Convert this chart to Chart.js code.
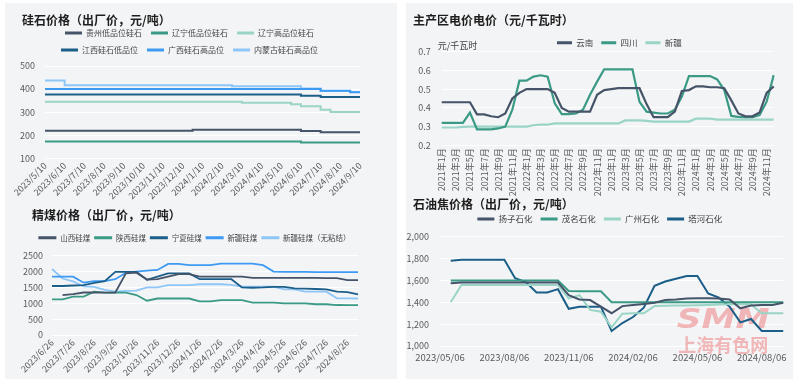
<!DOCTYPE html>
<html>
<head>
<meta charset="utf-8">
<script src="https://cdn.jsdelivr.net/npm/chart.js@4.4.1/dist/chart.umd.min.js"></script>
<style>
  html, body { margin: 0; padding: 0; background: #ffffff; }
  body { width: 800px; height: 379px; position: relative; overflow: hidden; }
  .panel { position: absolute; background: #f3f4f6; }
  canvas { position: absolute; }
</style>
</head>
<body>
<div class="panel" style="left:5px;top:3px;width:392px;height:376px"></div>
<div class="panel" style="left:406px;top:3px;width:387px;height:376px"></div>
<canvas id="silica" width="392" height="197" style="left:5px;top:3px"></canvas>
<canvas id="power" width="387" height="197" style="left:406px;top:3px"></canvas>
<canvas id="coal" width="392" height="176" style="left:5px;top:200px"></canvas>
<canvas id="coke" width="387" height="186" style="left:406px;top:190px"></canvas>
<script>
// ---- 硅石价格 (semi-monthly) ----
var silicaDates = ['2023/5/10','2023/5/25','2023/6/10','2023/6/25','2023/7/10','2023/7/25','2023/8/10','2023/8/25',
  '2023/9/10','2023/9/25','2023/10/10','2023/10/25','2023/11/10','2023/11/25','2023/12/10','2023/12/25',
  '2024/1/10','2024/1/25','2024/2/10','2024/2/25','2024/3/10','2024/3/25','2024/4/10','2024/4/25',
  '2024/5/10','2024/5/25','2024/6/10','2024/6/25','2024/7/10','2024/7/25','2024/8/10','2024/8/25','2024/9/10'];
var guizhouLow = [219,219,219,219,219,219,219,219,219,219,219,219,219,219,219,224,224,224,224,224,224,224,224,224,224,224,218,218,213,213,213,213,213];
var liaoningLow = [173,173,173,173,173,173,173,173,173,173,173,173,173,173,173,173,173,173,173,173,173,173,173,173,173,173,168,168,168,168,168,168,168];
var liaoningHigh = [345,345,345,345,345,345,345,345,345,345,345,345,345,345,345,345,345,345,345,345,341,341,341,341,341,334,326,326,310,301,301,301,301];
var jiangxiLow = [376,376,376,376,376,376,376,376,376,376,376,376,376,376,376,376,376,376,376,376,376,376,376,376,376,376,371,371,366,366,366,366,366];
var guangxiHigh = [400,400,400,400,400,400,400,400,400,400,400,400,400,400,400,400,400,400,400,400,400,400,400,400,400,400,400,400,393,393,393,386,386];
var neimengHigh = [437,437,417,417,417,417,417,417,417,417,417,417,417,417,417,417,417,417,417,412,412,412,412,412,412,412,402,402,392,392,392,387,387];

// ---- 主产区电价 (monthly) ----
var powerMonths = ['2021年1月','2021年2月','2021年3月','2021年4月','2021年5月','2021年6月','2021年7月','2021年8月','2021年9月','2021年10月','2021年11月','2021年12月',
  '2022年1月','2022年2月','2022年3月','2022年4月','2022年5月','2022年6月','2022年7月','2022年8月','2022年9月','2022年10月','2022年11月','2022年12月',
  '2023年1月','2023年2月','2023年3月','2023年4月','2023年5月','2023年6月','2023年7月','2023年8月','2023年9月','2023年10月','2023年11月','2023年12月',
  '2024年1月','2024年2月','2024年3月','2024年4月','2024年5月','2024年6月','2024年7月','2024年8月','2024年9月','2024年10月','2024年11月','2024年12月'];
var yunnan = [0.43,0.43,0.43,0.43,0.43,0.365,0.365,0.355,0.35,0.37,0.45,0.48,0.50,0.50,0.50,0.50,0.48,0.40,0.38,0.38,0.38,0.38,0.47,0.495,
  0.50,0.505,0.505,0.505,0.505,0.42,0.35,0.35,0.35,0.38,0.49,0.495,0.515,0.515,0.51,0.51,0.505,0.44,0.37,0.355,0.355,0.375,0.48,0.515];
var sichuan = [0.32,0.32,0.32,0.32,0.375,0.285,0.285,0.285,0.29,0.30,0.39,0.545,0.545,0.567,0.574,0.567,0.424,0.367,0.367,0.37,0.39,0.47,0.54,0.606,
  0.606,0.606,0.606,0.606,0.433,0.38,0.375,0.37,0.37,0.39,0.46,0.57,0.57,0.57,0.57,0.552,0.495,0.357,0.352,0.35,0.35,0.362,0.433,0.575];
var xinjiang = [0.295,0.295,0.295,0.298,0.30,0.30,0.30,0.30,0.30,0.30,0.30,0.30,0.30,0.307,0.31,0.31,0.317,0.317,0.317,0.317,0.317,0.317,0.317,0.317,
  0.317,0.317,0.333,0.333,0.333,0.33,0.327,0.327,0.327,0.327,0.327,0.327,0.342,0.342,0.342,0.337,0.337,0.337,0.337,0.337,0.337,0.337,0.337,0.337];

// ---- 精煤价格 (semi-monthly) ----
var coalDates = ['2023/6/26','2023/7/11','2023/7/26','2023/8/11','2023/8/26','2023/9/11','2023/9/26','2023/10/11','2023/10/26','2023/11/11',
  '2023/11/26','2023/12/11','2023/12/26','2024/1/11','2024/1/26','2024/2/11','2024/2/26','2024/3/11','2024/3/26','2024/4/11',
  '2024/4/26','2024/5/11','2024/5/26','2024/6/11','2024/6/26','2024/7/11','2024/7/26','2024/8/11','2024/8/26','2024/9/11'];
var shanxiCoal = [null,1260,1290,1340,1340,1335,1340,1945,1965,1750,1760,1840,1920,1920,1840,1840,1840,1840,1840,1800,1800,1800,1800,1800,1800,1800,1790,1790,1730,1730];
var shaanxiCoal = [1125,1125,1210,1210,1365,1335,1335,1335,1260,1080,1150,1150,1150,1150,1060,1060,1100,1100,1100,1020,1020,1020,1000,1000,1000,970,970,945,940,940];
var ningxiaCoal = [1545,1545,1560,1575,1640,1700,1990,1990,1990,1740,1840,1940,1940,1940,1760,1760,1760,1760,1500,1490,1500,1520,1520,1470,1460,1450,1440,1370,1350,1280];
var xinjiangCoal = [1840,1840,1840,1650,1700,1700,1760,1960,2000,2030,2050,2240,2240,2200,2200,2200,2250,2250,2250,2250,2200,2000,1990,1990,1990,1985,1985,1980,1980,1980];
var xinjiangNoBind = [2080,1780,1690,1530,1520,1420,1370,1390,1400,1500,1500,1570,1575,1575,1600,1600,1600,1580,1525,1525,1525,1525,1440,1440,1365,1365,1365,1155,1155,1150];

// ---- 石油焦价格 (semi-monthly) ----
var cokeDates = ['2023/05/06','2023/05/21','2023/06/06','2023/06/21','2023/07/06','2023/07/21','2023/08/06','2023/08/21','2023/09/06','2023/09/21',
  '2023/10/06','2023/10/21','2023/11/06','2023/11/21','2023/12/06','2023/12/21','2024/01/06','2024/01/21','2024/02/06','2024/02/21',
  '2024/03/06','2024/03/21','2024/04/06','2024/04/21','2024/05/06','2024/05/21','2024/06/06','2024/06/21','2024/07/06','2024/07/21',
  '2024/08/06','2024/08/21','2024/09/06'];
var yangzi = [null,1575,1580,1580,1580,1580,1580,1580,1580,1580,1580,1580,1466,1425,1420,1360,1300,1365,1375,1385,1395,1420,1425,1435,1438,1438,1435,1425,1345,1370,1375,1375,1395];
var maoming = [null,1600,1600,1600,1600,1600,1600,1600,1600,1600,1600,1600,1503,1500,1500,1500,1400,1400,1400,1400,1400,1400,1400,1400,1400,1400,1400,1400,1400,1400,1400,1400,1400];
var guangzhou = [null,1400,1558,1558,1558,1558,1558,1558,1558,1558,1558,1558,1436,1466,1330,1314,1170,1295,1300,1300,1365,1368,1370,1370,1372,1375,1380,1382,1382,1380,1300,1300,1300];
var tahe = [null,1780,1790,1790,1790,1790,1790,1620,1585,1490,1490,1520,1340,1360,1360,1360,1137,1210,1265,1350,1550,1590,1615,1640,1640,1480,1442,1360,1216,1247,1137,1137,1137];

var FONT = '"Noto Sans CJK SC", "Noto Sans", sans-serif';
Chart.defaults.font.family = FONT;
Chart.defaults.font.size = 9;
Chart.defaults.color = '#5a5a5a';

var slate = '#465469', teal = '#3a9a85', mint = '#9ad4c6', navy = '#1b5e88', blue = '#3d9af2', sky = '#8fc6f8';

// unit label, watermark, title/legend nudges
var extras = {
  id: 'extras',
  afterLayout: function (chart, args, opts) {
    if (opts.titleShift) {
      chart.titleBlock.left += opts.titleShift;
      chart.titleBlock.right += opts.titleShift;
    }
    if (opts.legendShift) {
      chart.legend.left += opts.legendShift;
      chart.legend.right += opts.legendShift;
    }
  },
  beforeDatasetsDraw: function (chart, args, opts) {
    if (!opts.watermark) return;
    var ctx = chart.ctx, a = chart.chartArea;
    var cx = a.right - 60;
    ctx.save();
    ctx.fillStyle = 'rgba(238, 105, 105, 0.45)';
    ctx.textAlign = 'center';
    ctx.textBaseline = 'middle';
    ctx.font = 'italic bold 32px "DejaVu Sans"';
    var w = ctx.measureText('SMM').width;
    ctx.translate(cx, a.bottom - 25);
    ctx.scale(93 / w, 0.85);
    ctx.fillText('SMM', 0, 0);
    ctx.restore();
    ctx.save();
    ctx.fillStyle = 'rgba(238, 105, 105, 0.45)';
    ctx.textAlign = 'center';
    ctx.textBaseline = 'middle';
    ctx.font = 'bold 18px ' + FONT;
    ctx.fillText('上海有色网', cx, a.bottom - 1);
    ctx.restore();
  },
  afterDraw: function (chart, args, opts) {
    if (!opts.unit) return;
    var ctx = chart.ctx, a = chart.chartArea;
    ctx.save();
    ctx.font = '9px ' + FONT;
    ctx.fillStyle = '#444';
    ctx.textAlign = 'left';
    ctx.textBaseline = 'middle';
    ctx.fillText(opts.unit, a.left - 4, a.top - 6);
    ctx.restore();
  }
};
Chart.register(extras);

function series(label, data, color, width, stepped) {
  return {
    label: label,
    data: data,
    borderColor: color,
    backgroundColor: color,
    borderWidth: width,
    pointRadius: 0,
    pointHoverRadius: 0,
    tension: 0,
    stepped: stepped || false
  };
}

function flatLabels(chart) {
  return Chart.defaults.plugins.legend.labels.generateLabels(chart).map(function (item) {
    item.lineWidth = 0;
    return item;
  });
}

function fixWidth(w) { return function (scale) { scale.width = w; }; }
function fixHeight(h) { return function (scale) { scale.height = h; }; }

function titleOpts(text, top, bottom) {
  return { display: true, text: text, align: 'start', color: '#1e1e1e',
    font: { size: 12, weight: 'bold', lineHeight: 1 }, padding: { top: top, bottom: bottom } };
}
function spacer(h) {
  return { display: true, text: '', weight: 500, padding: 0, font: { size: h, lineHeight: 1 } };
}
function legendOpts(size, boxWidth, padding) {
  return { labels: { boxWidth: boxWidth, boxHeight: 3, padding: padding, color: '#444',
    font: { size: size }, generateLabels: flatLabels } };
}
function yAxis(min, max, step, width, pad, fmt) {
  var ticks = { stepSize: step, padding: pad };
  if (fmt) ticks.callback = fmt;
  return { min: min, max: max, ticks: ticks, border: { display: false },
    grid: { color: '#ffffff', lineWidth: 1, drawTicks: false }, afterFit: fixWidth(width) };
}
function xAxis(every, rotation, height, pad, size) {
  return {
    grid: { display: false, drawTicks: false }, border: { display: false },
    ticks: { autoSkip: false, maxRotation: rotation, minRotation: rotation, padding: pad, font: { size: size || 9 },
      callback: function (v, i) { return i % every ? null : this.getLabelForValue(v); } },
    afterFit: fixHeight(height)
  };
}

var base = { responsive: false, animation: false, events: [], devicePixelRatio: 1 };

new Chart(document.getElementById('silica'), {
  type: 'line',
  data: {
    labels: silicaDates,
    datasets: [
      series('贵州低品位硅石', guizhouLow, slate, 2, true),
      series('辽宁低品位硅石', liaoningLow, teal, 2, true),
      series('辽宁高品位硅石', liaoningHigh, mint, 2, true),
      series('江西硅石低品位', jiangxiLow, navy, 2, true),
      series('广西硅石高品位', guangxiHigh, blue, 2, true),
      series('内蒙古硅石高品位', neimengHigh, sky, 2, true)
    ]
  },
  options: Object.assign({}, base, {
    layout: { padding: { left: 10, right: 37 } },
    plugins: {
      title: titleOpts('硅石价格（出厂价，元/吨）', 11, -6),
      subtitle: spacer(2),
      legend: legendOpts(8, 17, 9),
      tooltip: { enabled: false },
      extras: { titleShift: 7, legendShift: 2 }
    },
    scales: {
      x: xAxis(2, 45, 41.7, 2),
      y: yAxis(100, 500, 100, 30, 10)
    }
  })
});

new Chart(document.getElementById('power'), {
  type: 'line',
  data: {
    labels: powerMonths,
    datasets: [
      series('云南', yunnan, slate, 2.2),
      series('四川', sichuan, teal, 2.2),
      series('新疆', xinjiang, mint, 2.2)
    ]
  },
  options: Object.assign({}, base, {
    layout: { padding: { left: 0, right: 19.3 } },
    plugins: {
      title: titleOpts('主产区电价电价（元/千瓦时）', 11, 4.45),
      legend: Object.assign(legendOpts(8.5, 15, 8), { maxHeight: 21.25 }),
      tooltip: { enabled: false },
      extras: { titleShift: 7, legendShift: 29.5, unit: '元/千瓦时' }
    },
    scales: {
      x: xAxis(2, 90, 54.7, 3),
      y: yAxis(0.2, 0.7, 0.1, 35.7, 11)
    }
  })
});

new Chart(document.getElementById('coal'), {
  type: 'line',
  data: {
    labels: coalDates,
    datasets: [
      series('山西硅煤', shanxiCoal, slate, 1.8),
      series('陕西硅煤', shaanxiCoal, teal, 1.8),
      series('宁夏硅煤', ningxiaCoal, navy, 1.8),
      series('新疆硅煤', xinjiangCoal, blue, 1.8),
      series('新疆硅煤（无粘结）', xinjiangNoBind, sky, 1.8)
    ]
  },
  options: Object.assign({}, base, {
    layout: { padding: { left: 0, right: 39 } },
    plugins: {
      title: titleOpts('精煤价格（出厂价，元/吨）', 9, 8.95),
      subtitle: spacer(4.25),
      legend: legendOpts(7.5, 18, 4),
      tooltip: { enabled: false },
      extras: { titleShift: 27, legendShift: 13 }
    },
    scales: {
      x: xAxis(2, 45, 41, 2),
      y: yAxis(0, 2500, 500, 47, 9, function (v) { return String(v); })
    }
  })
});

new Chart(document.getElementById('coke'), {
  type: 'line',
  data: {
    labels: cokeDates,
    datasets: [
      series('扬子石化', yangzi, slate, 2),
      series('茂名石化', maoming, teal, 2),
      series('广州石化', guangzhou, mint, 2),
      series('塔河石化', tahe, navy, 2)
    ]
  },
  options: Object.assign({}, base, {
    layout: { padding: { left: 0, right: 6.3 } },
    plugins: {
      title: titleOpts('石油焦价格（出厂价，元/吨）', 8, -3.25),
      subtitle: spacer(3.45),
      legend: legendOpts(8.5, 17, 8),
      tooltip: { enabled: false },
      extras: { titleShift: 7, legendShift: 3.5, watermark: true }
    },
    scales: {
      x: xAxis(6, 0, 30, 6, 9.5),
      y: yAxis(1000, 2000, 200, 34, 11)
    }
  })
});
</script>
</body>
</html>
